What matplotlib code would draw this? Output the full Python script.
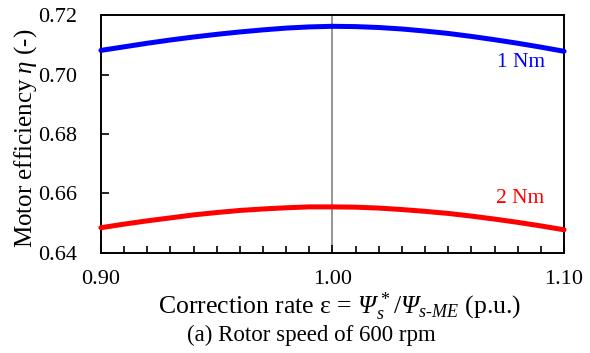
import matplotlib
matplotlib.use("Agg")
import matplotlib.pyplot as plt
from matplotlib.ticker import MultipleLocator

plt.rcParams['font.family'] = ['Liberation Serif', 'DejaVu Serif']
plt.rcParams['mathtext.fontset'] = 'custom'
plt.rcParams['mathtext.rm'] = 'Liberation Serif'
plt.rcParams['mathtext.it'] = 'Liberation Serif:italic'
plt.rcParams['mathtext.sf'] = 'Liberation Serif:italic'
plt.rcParams['mathtext.bf'] = 'Liberation Serif:bold'

eps = [0.90, 0.91, 0.92, 0.93, 0.94, 0.95, 0.96, 0.97, 0.98, 0.99, 1.00,
       1.01, 1.02, 1.03, 1.04, 1.05, 1.06, 1.07, 1.08, 1.09, 1.10]
eff_1nm = [0.7081, 0.7093, 0.7105, 0.7116, 0.7126, 0.7135, 0.7143, 0.7150, 0.7156, 0.7160, 0.7162,
           0.7161, 0.7158, 0.7153, 0.7146, 0.7138, 0.7128, 0.7117, 0.7105, 0.7092, 0.7078]
eff_2nm = [0.6485, 0.6497, 0.6508, 0.6518, 0.6528, 0.6536, 0.6543, 0.6548, 0.6552, 0.6555, 0.6555,
           0.6554, 0.6551, 0.6546, 0.6540, 0.6533, 0.6524, 0.6514, 0.6503, 0.6491, 0.6478]
xticks = [0.90, 1.00, 1.10]
yticks = [0.64, 0.66, 0.68, 0.70, 0.72]

fig = plt.figure(figsize=(5.9, 3.53), dpi=100)
ax = fig.add_axes([0.171, 0.2833, 0.785, 0.6742])

ax.axvline(1.00, color='#8c8c8c', lw=1.3, zorder=1)
ax.plot(eps, eff_1nm, color='#0000ff', lw=3.6, solid_capstyle='round', zorder=3, clip_on=False)
ax.plot(eps, eff_2nm, color='#ff0000', lw=3.6, solid_capstyle='round', zorder=3, clip_on=False)

ax.text(1.0814, 0.7040, '1 Nm', color='#0000ff', fontsize=15.5, ha='center', va='center')
ax.text(1.0810, 0.6582, '2 Nm', color='#ff0000', fontsize=15.5, ha='center', va='center')

ax.set_xlim(0.90, 1.10)
ax.set_ylim(0.64, 0.72)
ax.set_xticks(xticks)
ax.set_xticklabels(['%.2f' % v for v in xticks])
ax.set_yticks(yticks)
ax.set_yticklabels(['%.2f' % v for v in yticks])
ax.xaxis.set_minor_locator(MultipleLocator(0.01))
ax.tick_params(axis='both', which='major', direction='in', length=6, width=1.2, labelsize=16,
               top=False, right=False)
ax.tick_params(axis='x', which='major', pad=12)
ax.tick_params(axis='y', which='major', pad=17)
ax.tick_params(axis='x', which='minor', direction='in', length=5, width=1.2, top=False)
for s in ax.spines.values():
    s.set_linewidth(1.4)

fig.text(0.043, 0.608, r'Motor efficiency $\mathit{\eta}$ (-)', fontsize=18, rotation=90,
         ha='center', va='center')
fig.text(0.576, 0.131, r'Correction rate ε = $\mathsf{\Psi}_{\mathit{s}}^{\,*}/\mathsf{\Psi}_{\mathit{s\text{-}ME}}$ (p.u.)',
         fontsize=18.5, ha='center', va='center')
fig.text(0.527, 0.049, '(a) Rotor speed of 600 rpm', fontsize=16.5, ha='center', va='center')

fig.savefig('out.png', dpi=100)
